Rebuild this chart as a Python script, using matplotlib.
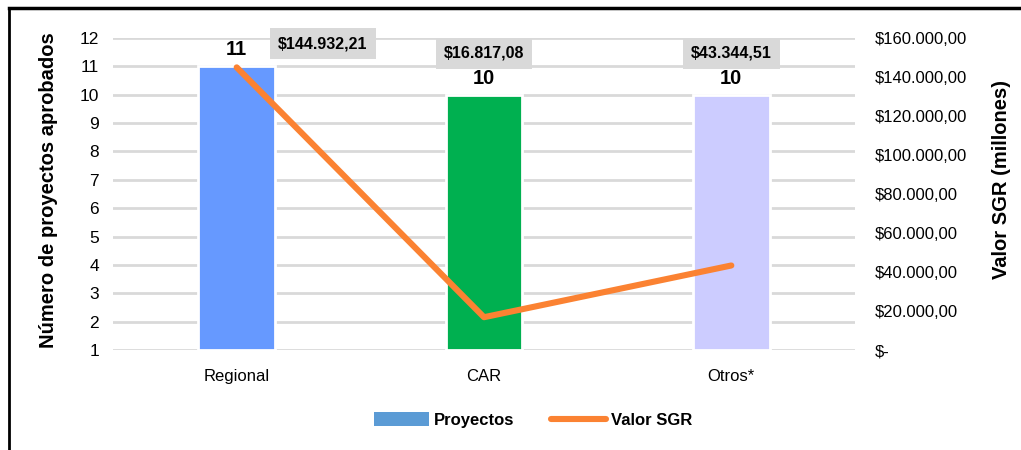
import matplotlib
matplotlib.use("Agg")
import matplotlib.pyplot as plt
from matplotlib.patches import Patch
from matplotlib.lines import Line2D

plt.rcParams['font.family'] = ['Liberation Sans', 'DejaVu Sans']

categorias = ["Regional", "CAR", "Otros*"]
proyectos = [11, 10, 10]
valor_sgr = [144932.21, 16817.08, 43344.51]
colores = ["#6699FF", "#00B050", "#CCCCFF"]
ticks_der = [0, 20000, 40000, 60000, 80000, 100000, 120000, 140000, 160000]


def pesos(v):
    if v == 0:
        return "$-"
    s = "{:,.2f}".format(v)
    s = s.replace(",", "X").replace(".", ",").replace("X", ".")
    return "$" + s


fig = plt.figure(figsize=(10.21, 4.5), dpi=100)
ax = fig.add_axes([0.1107, 0.2222, 0.7267, 0.6934])
ax2 = ax.twinx()

x = list(range(len(categorias)))
alturas = [p - 1 for p in proyectos]
ax.bar(x, alturas, bottom=1, width=0.31, color=colores, edgecolor="white",
       linewidth=2, zorder=3)
ax.set_xlim(-0.5, 2.5)
ax.set_ylim(1, 12)
ax.set_yticks(range(1, 13))
ax.grid(axis="y", color="#D9D9D9", linewidth=2, zorder=0)
ax.set_axisbelow(True)
ax.set_xticks(x)
ax.set_xticklabels(categorias, fontsize=12)
ax.tick_params(axis="y", length=0, labelsize=12.5, pad=10)
ax.tick_params(axis="x", length=0, pad=14)

ax2.plot(x, valor_sgr, color="#FB8232", linewidth=4.4, solid_capstyle="round",
         zorder=4)
ax2.set_ylim(0, 160000)
ax2.set_yticks(ticks_der)
ax2.set_yticklabels([pesos(t) for t in ticks_der], fontsize=12)
ax2.tick_params(axis="y", length=0, pad=14)

for a in (ax, ax2):
    for s in a.spines.values():
        s.set_visible(False)

ax.set_ylabel("Número de proyectos aprobados", fontsize=14.5, fontweight="bold")
ax.yaxis.set_label_coords(-0.074, 0.513)
ax2.set_ylabel("Valor SGR (millones)", fontsize=14.5, fontweight="bold")
ax2.yaxis.set_label_coords(1.184, 0.545)

caja = dict(boxstyle="square,pad=0.5", facecolor="#D9D9D9", edgecolor="none")

# etiquetas de proyectos
for i, p in enumerate(proyectos):
    ax.annotate(str(p), (i, p), xytext=(0, 5), textcoords="offset points",
                ha="center", va="bottom", fontsize=14.5, fontweight="bold", zorder=6)

# etiquetas del valor SGR
ax2.annotate(pesos(valor_sgr[0]), (0, valor_sgr[0]), xytext=(62, 17),
             textcoords="offset points", ha="center", va="center",
             fontsize=11.5, fontweight="bold", bbox=caja, zorder=6)
for i in (1, 2):
    ax.annotate(pesos(valor_sgr[i]), (i, proyectos[i]), xytext=(0, 30),
                textcoords="offset points", ha="center", va="center",
                fontsize=11.5, fontweight="bold", bbox=caja, zorder=6)

handles = [Patch(facecolor="#5B9BD5", edgecolor="none"),
           Line2D([0], [0], color="#FB8232", linewidth=4.4, solid_capstyle="round")]
fig.legend(handles, ["Proyectos", "Valor SGR"], loc="center",
           bbox_to_anchor=(0.522, 0.066), ncol=2, frameon=False,
           prop={"weight": "bold", "size": 12}, handlelength=3.3,
           handleheight=0.9, columnspacing=2.2, handletextpad=0.3)

# marco
fig.add_artist(Line2D([0.0088, 1.0], [0.982, 0.982], color="black", linewidth=2.5,
                      transform=fig.transFigure))
fig.add_artist(Line2D([0.0088, 0.0088], [0.0, 0.982], color="black", linewidth=2,
                      transform=fig.transFigure))

fig.savefig("out.png", dpi=100)
